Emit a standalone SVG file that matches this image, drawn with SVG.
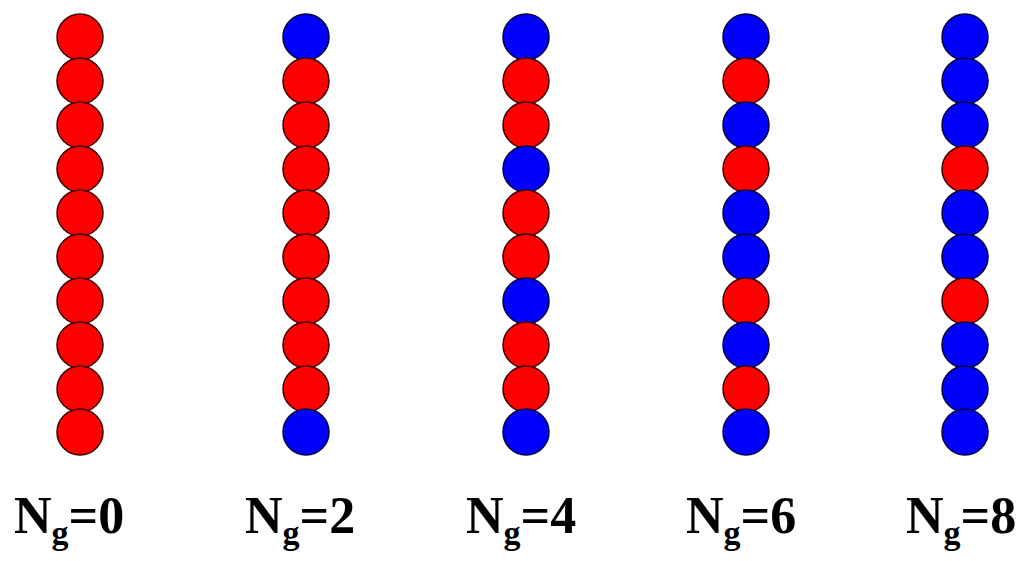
<svg xmlns="http://www.w3.org/2000/svg" width="1027" height="561" viewBox="0 0 1027 561">
<style>
.r{fill:#ff0000;stroke:#3a0000;stroke-width:1.5}
.b{fill:#0000ff;stroke:#00003a;stroke-width:1.5}
.lbl{font-family:"Liberation Serif","Times New Roman",serif;font-weight:bold;font-size:52px;fill:#000}
.sub{font-size:34px}
</style>
<rect width="1027" height="561" fill="#fff"/>
<g id="col0">
<circle class="r" cx="80" cy="37" r="23"/><circle class="r" cx="80" cy="81" r="23"/><circle class="r" cx="80" cy="125" r="23"/><circle class="r" cx="80" cy="169" r="23"/><circle class="r" cx="80" cy="213" r="23"/><circle class="r" cx="80" cy="257" r="23"/><circle class="r" cx="80" cy="301" r="23"/><circle class="r" cx="80" cy="345" r="23"/><circle class="r" cx="80" cy="389" r="23"/><circle class="r" cx="80" cy="432" r="23"/>
</g>
<g id="col2">
<circle class="b" cx="306" cy="37" r="23"/><circle class="r" cx="306" cy="81" r="23"/><circle class="r" cx="306" cy="125" r="23"/><circle class="r" cx="306" cy="169" r="23"/><circle class="r" cx="306" cy="213" r="23"/><circle class="r" cx="306" cy="257" r="23"/><circle class="r" cx="306" cy="301" r="23"/><circle class="r" cx="306" cy="345" r="23"/><circle class="r" cx="306" cy="389" r="23"/><circle class="b" cx="306" cy="432" r="23"/>
</g>
<g id="col4">
<circle class="b" cx="526" cy="37" r="23"/><circle class="r" cx="526" cy="81" r="23"/><circle class="r" cx="526" cy="125" r="23"/><circle class="b" cx="526" cy="169" r="23"/><circle class="r" cx="526" cy="213" r="23"/><circle class="r" cx="526" cy="257" r="23"/><circle class="b" cx="526" cy="301" r="23"/><circle class="r" cx="526" cy="345" r="23"/><circle class="r" cx="526" cy="389" r="23"/><circle class="b" cx="526" cy="432" r="23"/>
</g>
<g id="col6">
<circle class="b" cx="746" cy="37" r="23"/><circle class="r" cx="746" cy="81" r="23"/><circle class="b" cx="746" cy="125" r="23"/><circle class="r" cx="746" cy="169" r="23"/><circle class="b" cx="746" cy="213" r="23"/><circle class="b" cx="746" cy="257" r="23"/><circle class="r" cx="746" cy="301" r="23"/><circle class="b" cx="746" cy="345" r="23"/><circle class="r" cx="746" cy="389" r="23"/><circle class="b" cx="746" cy="432" r="23"/>
</g>
<g id="col8">
<circle class="b" cx="965" cy="37" r="23"/><circle class="b" cx="965" cy="81" r="23"/><circle class="b" cx="965" cy="125" r="23"/><circle class="r" cx="965" cy="169" r="23"/><circle class="b" cx="965" cy="213" r="23"/><circle class="b" cx="965" cy="257" r="23"/><circle class="r" cx="965" cy="301" r="23"/><circle class="b" cx="965" cy="345" r="23"/><circle class="b" cx="965" cy="389" r="23"/><circle class="b" cx="965" cy="432" r="23"/>
</g>
<g id="labels">
<text class="lbl" x="14" y="533">N<tspan class="sub" dy="11">g</tspan><tspan dy="-11">=0</tspan></text>
<text class="lbl" x="245" y="533">N<tspan class="sub" dy="11">g</tspan><tspan dy="-11">=2</tspan></text>
<text class="lbl" x="466" y="533">N<tspan class="sub" dy="11">g</tspan><tspan dy="-11">=4</tspan></text>
<text class="lbl" x="686" y="533">N<tspan class="sub" dy="11">g</tspan><tspan dy="-11">=6</tspan></text>
<text class="lbl" x="906" y="533">N<tspan class="sub" dy="11">g</tspan><tspan dy="-11">=8</tspan></text>
</g>
</svg>
